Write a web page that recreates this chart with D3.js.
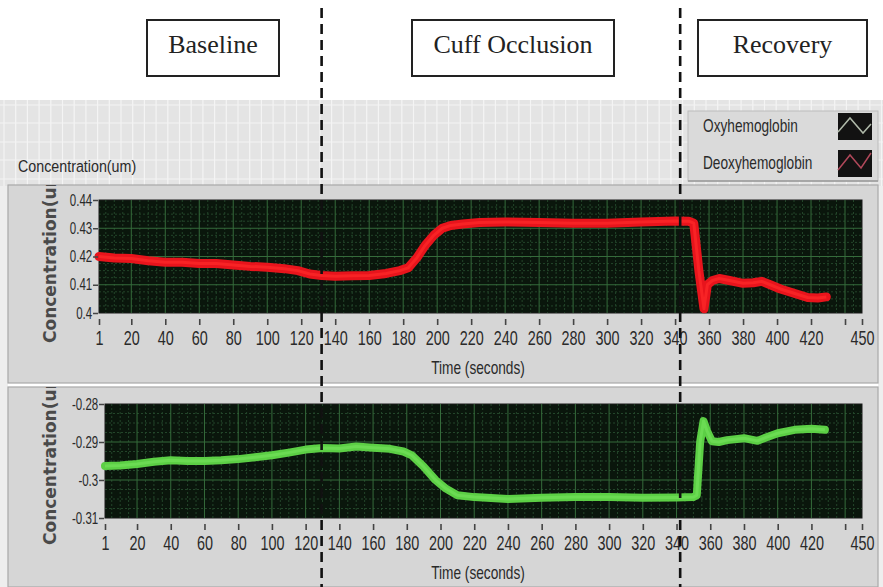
<!DOCTYPE html>
<html><head><meta charset="utf-8">
<script src="https://cdn.jsdelivr.net/npm/d3@7"></script>
<style>
html,body{margin:0;padding:0;background:#fff;}
svg{display:block;}
</style></head><body>
<svg id="chart" width="883" height="587"></svg>
<script>
// ---------------- data ----------------
const timeTicks = [1,20,40,60,80,100,120,140,160,180,200,220,240,260,280,300,320,340,360,380,400,420,440,450];
const timeTickLabels = ["1","20","40","60","80","100","120","140","160","180","200","220","240","260","280","300","320","340","360","380","400","420","","450"];

const deoxyTicks = [0.40,0.41,0.42,0.43,0.44];
const deoxyTickLabels = ["0.4","0.41","0.42","0.43","0.44"];
const oxyTicks = [-0.31,-0.30,-0.29,-0.28];
const oxyTickLabels = ["-0.31","-0.3","-0.29","-0.28"];

// Deoxyhemoglobin (red, top graph)
const deoxyTime = [1,10,20,30,40,50,60,70,80,90,100,110,118,125,132,140,150,160,170,178,183,188,193,198,203,208,215,225,240,260,280,300,320,340,348,351,354,357,359,362,366,372,380,386,391,396,402,410,418,424,429];
const deoxyConc = [0.4200,0.4195,0.4193,0.4185,0.4180,0.4180,0.4175,0.4175,0.4170,0.4165,0.4162,0.4157,0.4150,0.4138,0.4133,0.4130,0.4132,0.4133,0.4140,0.4150,0.4160,0.4195,0.4240,0.4275,0.4300,0.4310,0.4315,0.4320,0.4322,0.4320,0.4318,0.4318,0.4322,0.4326,0.4325,0.4318,0.4150,0.4015,0.4100,0.4115,0.4122,0.4115,0.4105,0.4107,0.4112,0.4100,0.4085,0.4070,0.4055,0.4053,0.4057];

// Oxyhemoglobin (green, bottom graph)
const oxyTime = [1,10,20,30,40,50,60,70,80,90,100,110,120,130,140,150,160,170,178,183,190,197,203,210,220,240,260,280,300,320,340,350,352,354,356,358,361,365,370,380,388,393,400,410,420,428];
const oxyConc = [-0.2963,-0.2962,-0.2958,-0.2952,-0.2948,-0.2950,-0.2950,-0.2948,-0.2945,-0.2940,-0.2935,-0.2928,-0.2920,-0.2916,-0.2917,-0.2912,-0.2915,-0.2918,-0.2925,-0.2935,-0.2965,-0.3000,-0.3022,-0.3040,-0.3045,-0.3050,-0.3047,-0.3045,-0.3045,-0.3047,-0.3046,-0.3045,-0.3040,-0.2900,-0.2845,-0.2870,-0.2898,-0.2900,-0.2895,-0.2890,-0.2897,-0.2888,-0.2877,-0.2868,-0.2865,-0.2868];

const phaseNames = ["Baseline","Cuff Occlusion","Recovery"];
const phaseBoundaryTimes = [132,343];
const legendNames = ["Oxyhemoglobin","Deoxyhemoglobin"];
const legendColors = ["#aeb8a8","#b0485a"];

// ---------------- drawing ----------------
const svg = d3.select("#chart");
const W = 883, H = 587;
const sansFont = "'Liberation Sans', Arial, sans-serif";
const serifFont = "'Liberation Serif', 'Times New Roman', serif";

svg.append("rect").attr("width",W).attr("height",H).attr("fill","#ffffff");

// light grid strip
svg.append("rect").attr("x",0).attr("y",100).attr("width",W).attr("height",86).attr("fill","#e4e4e4");
const stripG = svg.append("g").attr("stroke","#f4f4f4").attr("stroke-width",1.2);
d3.range(4, W, 11.7).forEach(xv => stripG.append("line").attr("x1",xv).attr("x2",xv).attr("y1",100).attr("y2",186));
[105,123,142,160,179].forEach(yv => stripG.append("line").attr("x1",0).attr("x2",W).attr("y1",yv).attr("y2",yv));

// side strips
svg.append("rect").attr("x",0).attr("y",186).attr("width",8).attr("height",H-186).attr("fill","#eeeeee");
svg.append("rect").attr("x",878).attr("y",186).attr("width",5).attr("height",H-186).attr("fill","#eeeeee");

// "Concentration(um)" label
svg.append("text").attr("transform","translate(18,172) scale(0.84,1)")
  .attr("font-family",sansFont).attr("font-size",17).attr("fill","#2a2a2a").text("Concentration(um)");

// legend
const lg = svg.append("g");
lg.append("rect").attr("x",688).attr("y",111).attr("width",190).attr("height",70)
  .attr("fill","#dadada").attr("stroke","#bcbcbc");
lg.append("line").attr("x1",688).attr("x2",878).attr("y1",181).attr("y2",181).attr("stroke","#9a9a9a").attr("stroke-width",1.5);
const legendY = [132,169];
const swatchY = [113,150];
const swatchPts = [
  [[0,19],[12,5],[25,20],[33,11]],
  [[0,20],[12,5],[23,18],[33,3]]
];
legendNames.forEach((n,i) => {
  lg.append("text").attr("transform",`translate(703,${legendY[i]}) scale(0.76,1)`)
    .attr("font-family",sansFont).attr("font-size",18).attr("fill","#2a2a2a").text(n);
  lg.append("rect").attr("x",838).attr("y",swatchY[i]).attr("width",34).attr("height",27).attr("fill","#121212");
  lg.append("polyline").attr("points",swatchPts[i].map(p=>[838+p[0],swatchY[i]+p[1]].join(",")).join(" "))
    .attr("fill","none").attr("stroke",legendColors[i]).attr("stroke-width",1.5);
});

function drawPanel(cfg){
  const clipId = "clip" + cfg.id;
  svg.append("clipPath").attr("id",clipId).append("rect")
    .attr("x",8).attr("y",cfg.panelTop).attr("width",870).attr("height",cfg.panelH);
  svg.append("rect").attr("x",8).attr("y",cfg.panelTop).attr("width",870).attr("height",cfg.panelH)
    .attr("fill","#d6d6d6").attr("stroke","#a8a8a8").attr("stroke-width",1.2);

  const x = d3.scaleLinear().domain([1,450]).range([cfg.left, 862]);
  const y = d3.scaleLinear().domain(cfg.yDomain).range([cfg.bottom, cfg.top]);
  const g = svg.append("g");

  g.append("rect").attr("x",cfg.left).attr("y",cfg.top).attr("width",862-cfg.left).attr("height",cfg.bottom-cfg.top)
    .attr("fill","#0a160c").attr("stroke","#1a1a1a");

  // minor grid
  const minorX = d3.range(5,450,5).filter(v => v % 20 !== 0);
  const minorY = d3.range(cfg.yDomain[0], cfg.yDomain[1]+1e-9, 0.0025).filter((v,i)=> i % 4 !== 0);
  const mg = g.append("g").attr("stroke","#23452a").attr("stroke-width",1).attr("stroke-dasharray","2,2");
  minorX.forEach(v => mg.append("line").attr("x1",x(v)).attr("x2",x(v)).attr("y1",cfg.top).attr("y2",cfg.bottom));
  minorY.forEach(v => mg.append("line").attr("x1",cfg.left).attr("x2",862).attr("y1",y(v)).attr("y2",y(v)));
  // major grid
  const Mg = g.append("g").attr("stroke","#356b3b").attr("stroke-width",1);
  timeTicks.filter(v => v>1 && v<450).forEach(v => Mg.append("line").attr("x1",x(v)).attr("x2",x(v)).attr("y1",cfg.top).attr("y2",cfg.bottom));
  cfg.yTicks.slice(1,-1).forEach(v => Mg.append("line").attr("x1",cfg.left).attr("x2",862).attr("y1",y(v)).attr("y2",y(v)));

  // series line
  const pts = cfg.time.map((t,i)=>[t,cfg.vals[i]]);
  const line = d3.line().x(d=>x(d[0])).y(d=>y(d[1]));
  g.append("path").datum(pts).attr("d",line).attr("fill","none")
    .attr("stroke",cfg.color).attr("stroke-width",cfg.width).attr("stroke-linejoin","round").attr("stroke-linecap","round");
  g.append("path").datum(pts).attr("d",line).attr("fill","none")
    .attr("stroke",cfg.color2).attr("stroke-width",3).attr("stroke-linejoin","round").attr("opacity",0.7);

  // x axis
  const xAxis = d3.axisBottom(x).tickValues(timeTicks).tickSize(6).tickPadding(6)
    .tickFormat((d,i)=>timeTickLabels[i]);
  const xg = g.append("g").attr("transform",`translate(0,${cfg.bottom+6})`).call(xAxis);
  xg.select(".domain").remove();
  xg.selectAll(".tick line").attr("stroke","#444").attr("stroke-width",1.6);
  xg.selectAll(".tick text").attr("font-family",sansFont).attr("font-size",20).attr("fill","#2a2a2a")
    .attr("transform","scale(0.72,1)");

  // y axis
  const yAxis = d3.axisLeft(y).tickValues(cfg.yTicks).tickSize(5).tickPadding(3)
    .tickFormat((d,i)=>cfg.yLabels[i]);
  const yg = g.append("g").attr("transform",`translate(${cfg.left-1},0)`).call(yAxis);
  yg.select(".domain").remove();
  yg.selectAll(".tick line").attr("stroke","#444").attr("stroke-width",1.5);
  yg.selectAll(".tick text").attr("font-family",sansFont).attr("font-size",16).attr("fill","#2a2a2a")
    .attr("transform","scale(0.72,1)");

  // x title
  g.append("text").attr("transform",`translate(478,${cfg.bottom+61}) scale(0.76,1)`)
    .attr("text-anchor","middle").attr("font-family",sansFont).attr("font-size",18).attr("fill","#2a2a2a")
    .text("Time (seconds)");

  // y title (clipped by panel)
  svg.append("g").attr("clip-path",`url(#${clipId})`)
    .append("text").attr("transform",`translate(56,${cfg.titleStart}) rotate(-90)`)
    .attr("font-family","'DejaVu Sans', Verdana, sans-serif").attr("font-weight","bold")
    .attr("font-size",17).attr("fill","#4a4a4a").text("Concentration(um)");
  return x;
}

const xTop = drawPanel({id:1, panelTop:185, panelH:198, left:99, top:200, bottom:313,
  yDomain:[0.40,0.44], yTicks:deoxyTicks, yLabels:deoxyTickLabels,
  time:deoxyTime, vals:deoxyConc, color:"#e8141c", color2:"#ff2a2a", width:9, titleStart:343});
drawPanel({id:2, panelTop:387, panelH:200, left:105, top:404, bottom:518,
  yDomain:[-0.31,-0.28], yTicks:oxyTicks, yLabels:oxyTickLabels,
  time:oxyTime, vals:oxyConc, color:"#5ccf45", color2:"#72e05a", width:8, titleStart:545});

// phase boxes
const boxes = [[147,279],[412,614],[698,867]];
phaseNames.forEach((n,i)=>{
  svg.append("rect").attr("x",boxes[i][0]).attr("y",20).attr("width",boxes[i][1]-boxes[i][0]).attr("height",56)
    .attr("fill","#fff").attr("stroke","#222").attr("stroke-width",2);
  svg.append("text").attr("x",(boxes[i][0]+boxes[i][1])/2).attr("y",53).attr("text-anchor","middle")
    .attr("font-family",serifFont).attr("font-size",26).attr("fill","#222").text(n);
});

// phase boundary dashed lines
phaseBoundaryTimes.forEach(t=>{
  svg.append("line").attr("x1",xTop(t)).attr("x2",xTop(t)).attr("y1",8).attr("y2",H)
    .attr("stroke","#111").attr("stroke-width",2.6).attr("stroke-dasharray","10,6");
});
</script>
</body></html>
